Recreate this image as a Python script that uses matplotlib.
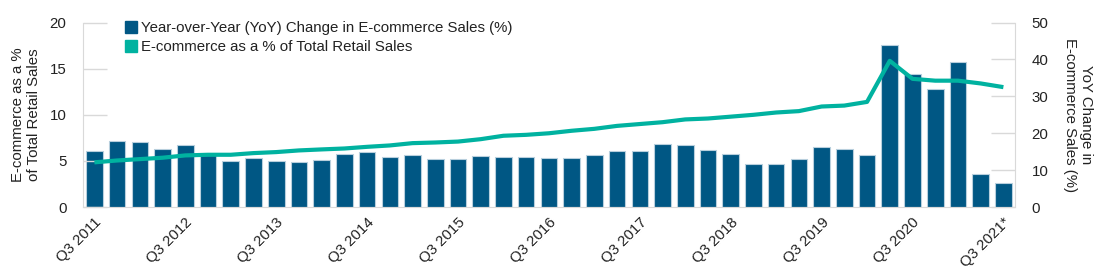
import matplotlib.pyplot as plt
from matplotlib.lines import Line2D
import numpy as np

plt.rcParams['font.family'] = ['Liberation Sans', 'DejaVu Sans']

# Quarterly data, Q3 2011 .. Q3 2021
quarters = ["Q3 2011", "", "", "", "Q3 2012", "", "", "", "Q3 2013", "", "", "",
            "Q3 2014", "", "", "", "Q3 2015", "", "", "", "Q3 2016", "", "", "",
            "Q3 2017", "", "", "", "Q3 2018", "", "", "", "Q3 2019", "", "", "",
            "Q3 2020", "", "", "", "Q3 2021*"]

# YoY change in e-commerce sales (%), right axis
yoy_change = [15.3, 18.0, 17.5, 15.7, 16.7, 14.0, 12.6, 13.2, 12.5, 12.3,
              12.7, 14.4, 14.8, 13.6, 14.1, 13.0, 13.0, 13.8, 13.6, 13.6,
              13.2, 13.3, 14.2, 15.3, 15.1, 17.0, 16.7, 15.4, 14.3, 11.6,
              11.6, 13.0, 16.2, 15.7, 14.1, 44.0, 36.1, 32.0, 39.4, 8.9, 6.6]

# E-commerce as a % of total retail sales, left axis
ecom_share = [4.85, 5.05, 5.2, 5.35, 5.6, 5.67, 5.67, 5.85, 5.96, 6.14,
              6.25, 6.35, 6.53, 6.68, 6.93, 7.0, 7.1, 7.36, 7.73, 7.83,
              8.0, 8.27, 8.48, 8.8, 9.0, 9.2, 9.5, 9.6, 9.8, 10.0,
              10.25, 10.4, 10.9, 11.0, 11.4, 15.85, 13.9, 13.7, 13.7, 13.4, 13.0]

bar_color = "#005784"
line_color = "#00b2a0"
text_color = "#222222"
grid_color = "#d9d9d9"
fs = 10.8

x = np.arange(len(quarters))

fig = plt.figure(figsize=(11, 2.75), dpi=100)
ax = fig.add_axes([0.0755, 0.247, 0.847, 0.671])
ax2 = ax.twinx()

# bars on the right axis, line on the left axis (line drawn on top)
ax2.bar(x, yoy_change, width=0.73, color=bar_color, edgecolor="#b8cfdd", linewidth=0.8, zorder=2)
ax.plot(x, ecom_share, color=line_color, linewidth=3, zorder=5, solid_capstyle="butt")
ax.set_zorder(ax2.get_zorder() + 1)
ax.patch.set_visible(False)

ax.set_xlim(-0.5, 40.5)
ax.set_ylim(0, 20)
ax2.set_ylim(0, 50)
ax.set_yticks([0, 5, 10, 15, 20])
ax2.set_yticks([0, 10, 20, 30, 40, 50])

ax.set_xticks(x)
ax.set_xticklabels(quarters, rotation=45, ha="right", rotation_mode="anchor",
                   fontsize=fs, color=text_color)
ax.tick_params(axis="x", length=0, pad=6)
ax.tick_params(axis="y", direction="in", length=17, width=1, color=grid_color,
               labelsize=fs, labelcolor=text_color, pad=12)
ax2.tick_params(axis="y", direction="in", length=17, width=1, color=grid_color,
                labelsize=fs, labelcolor=text_color, pad=12)

for a in (ax, ax2):
    for s in a.spines.values():
        s.set_visible(False)
ax.spines["left"].set_visible(True)
ax.spines["left"].set_color(grid_color)
ax.spines["bottom"].set_visible(True)
ax.spines["bottom"].set_color(grid_color)
ax2.spines["right"].set_visible(True)
ax2.spines["right"].set_color(grid_color)

ax.set_ylabel("E-commerce as a %\nof Total Retail Sales", fontsize=fs,
              color=text_color, labelpad=6)
ax2.set_ylabel("YoY Change in\nE-commerce Sales (%)", fontsize=fs,
               color=text_color, rotation=270, labelpad=32)

handles = [
    Line2D([], [], marker="s", linestyle="none", markersize=8, color=bar_color),
    Line2D([], [], marker="s", linestyle="none", markersize=8, color=line_color),
]
labels = ["Year-over-Year (YoY) Change in E-commerce Sales (%)",
          "E-commerce as a % of Total Retail Sales"]
ax.legend(handles, labels, loc="upper left", bbox_to_anchor=(0.035, 1.04),
          frameon=False, fontsize=fs, handletextpad=0.1, labelspacing=0.35,
          borderaxespad=0, handlelength=1.2, labelcolor=text_color)

fig.savefig("out.png", dpi=100)
